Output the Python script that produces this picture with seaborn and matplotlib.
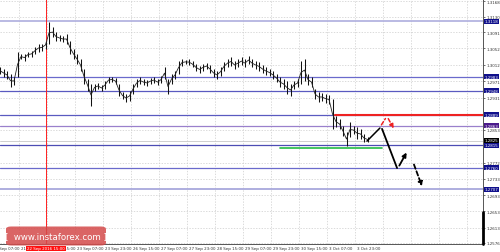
import numpy as np
import pandas as pd
import matplotlib
matplotlib.use("Agg")
import matplotlib.pyplot as plt
import seaborn as sns
from matplotlib.transforms import blended_transform_factory
from matplotlib.patches import FancyBboxPatch

# ---------------- data ----------------
bar_index = list(range(0, 212, 2))
highs = [1.3006, 1.3002, 1.2997, 1.2989, 1.2982, 1.3043, 1.3038, 1.3038, 1.3043, 1.3046,
         1.3055, 1.3063, 1.3063, 1.3070, 1.3117, 1.3104, 1.3092, 1.3085, 1.3082, 1.3087,
         1.3070, 1.3051, 1.3038, 1.3026, 1.3002, 1.2977, 1.2965, 1.2965, 1.2967, 1.2962,
         1.2972, 1.2982, 1.2982, 1.2979, 1.2965, 1.2945, 1.2940, 1.2948, 1.2965, 1.2977,
         1.2982, 1.2977, 1.2975, 1.2979, 1.2982, 1.2977, 1.2984, 1.3006, 1.2977, 1.2989,
         1.2997, 1.3021, 1.3026, 1.3024, 1.3026, 1.3021, 1.3014, 1.3009, 1.3014, 1.3016,
         1.3011, 1.3002, 1.2997, 1.3006, 1.3019, 1.3026, 1.3031, 1.3021, 1.3026, 1.3031,
         1.3026, 1.3033, 1.3026, 1.3021, 1.3019, 1.3011, 1.3006, 1.3002, 1.2997, 1.2989,
         1.2982, 1.2977, 1.2972, 1.2965, 1.2972, 1.2977, 1.3021, 1.3026, 1.2989, 1.2982,
         1.2953, 1.2945, 1.2943, 1.2940, 1.2938, 1.2928, 1.2886, 1.2879, 1.2862, 1.2847,
         1.2872, 1.2862, 1.2859, 1.2855, 1.2842, 1.2835]
lows = [1.2989, 1.2982, 1.2977, 1.2957, 1.2962, 1.2982, 1.3026, 1.3021, 1.3031, 1.3031,
        1.3038, 1.3043, 1.3046, 1.3051, 1.3063, 1.3080, 1.3070, 1.3070, 1.3068, 1.3063,
        1.3038, 1.3026, 1.3014, 1.2997, 1.2965, 1.2948, 1.2911, 1.2948, 1.2953, 1.2948,
        1.2953, 1.2967, 1.2970, 1.2965, 1.2935, 1.2928, 1.2921, 1.2923, 1.2940, 1.2957,
        1.2965, 1.2962, 1.2960, 1.2965, 1.2967, 1.2962, 1.2967, 1.2977, 1.2940, 1.2965,
        1.2977, 1.2989, 1.3009, 1.3014, 1.3011, 1.3006, 1.2997, 1.2992, 1.2997, 1.3002,
        1.2992, 1.2982, 1.2977, 1.2984, 1.2997, 1.3006, 1.3009, 1.3002, 1.3006, 1.3011,
        1.3006, 1.3014, 1.3006, 1.3002, 1.2997, 1.2992, 1.2987, 1.2984, 1.2977, 1.2970,
        1.2957, 1.2953, 1.2940, 1.2935, 1.2953, 1.2957, 1.2965, 1.2972, 1.2962, 1.2957,
        1.2928, 1.2921, 1.2923, 1.2918, 1.2916, 1.2855, 1.2859, 1.2855, 1.2837, 1.2813,
        1.2835, 1.2842, 1.2830, 1.2830, 1.2823, 1.2823]

# horizontal levels (price, colour, label box colour)
level_prices = [1.3118, 1.2983, 1.2948, 1.2889, 1.2863, 1.2815, 1.2760, 1.2707]
level_colors = ["#b4b4e0", "#6a6acc", "#5a5ac0", "#5a5ac0", "#9a80cc", "#4c4cb4", "#6a6acc", "#a8a8dc"]
level_box = ["#10108c", "#10108c", "#10108c", "#10108c", "#4b1a8c", "#10108c", "#10108c", "#10108c"]
bid_price = 1.2825

ytick_vals = [1.3168, 1.3130, 1.3091, 1.3052, 1.3012, 1.2971, 1.2931, 1.2853,
              1.2772, 1.2733, 1.2693, 1.2653, 1.2613, 1.2576]
xtick_idx = [-5, 11, 27, 43, 59, 75, 91, 107, 123, 139, 155, 171, 187, 203]
xtick_lab = ["21 Sep 07:00", "21 Sep 23:00", "22 Sep 15:00", "23 Sep 07:00", "23 Sep 23:00",
             "26 Sep 15:00", "27 Sep 07:00", "27 Sep 23:00", "28 Sep 15:00", "29 Sep 07:00",
             "29 Sep 23:00", "30 Sep 15:00", "3 Oct 07:00", "3 Oct 23:00"]
cursor_idx = 26.3
cursor_label = "22 Sep 2016 15:00"

green_x = [160, 218.3]
green_y = [1.2809, 1.2809]
red_x = [191.4, 276]
red_y = [1.2889, 1.2889]

path1_x = [209.7, 217.1]
path1_y = [1.2825, 1.2857]
path2_x = [218.3, 226.9]
path2_y = [1.2855, 1.2759]
arrow_up = [(227.4, 1.2759), (233.1, 1.2803)]
arrow_dn = [(236.0, 1.2774), (241.7, 1.2708)]
red_up = [(217.1, 1.2859), (221.1, 1.2886)]
red_dn = [(221.1, 1.2886), (225.7, 1.2850)]

# ---------------- figure ----------------
sns.set_style("white")
fig = plt.figure(figsize=(5.0, 2.53), dpi=100)
ax = fig.add_axes([0.0, 1 - 245 / 253, 483 / 500, 245 / 253])
ax.set_xlim(0, 276)
ax.set_ylim(1.2573, 1.3173)

FS = 2.9

# grid
for y in ytick_vals:
    ax.axhline(y, color="#cccccc", lw=0.5, ls=(0, (2, 2)), zorder=0)
for xi in range(11, 276, 16):
    ax.axvline(xi, color="#cccccc", lw=0.5, ls=(0, (2, 2)), zorder=0)

# levels
for p, c in zip(level_prices, level_colors):
    ax.axhline(p, color=c, lw=1.3 if c in ("#b4b4e0", "#a8a8dc") else 0.9, zorder=1)
ax.axhline(bid_price, color="#c8c8c8", lw=0.6, zorder=1)

# red cursor line
ax.axvline(cursor_idx, color="#ff2020", lw=0.7, zorder=2)

# bars
bars = pd.DataFrame({"i": bar_index, "high": highs, "low": lows})
ax.vlines(bars["i"], bars["low"], bars["high"], color="#111111", lw=0.75, zorder=3)
sns.lineplot(x=bars["i"], y=(bars["high"] + bars["low"]) / 2, ax=ax, color="#222222", lw=0.6, zorder=3)

# green / red horizontal support-resistance
sns.lineplot(x=green_x, y=green_y, ax=ax, color="#22bb44", lw=1.2, zorder=4)
sns.lineplot(x=red_x, y=red_y, ax=ax, color="#ee2222", lw=1.5, zorder=4)

# projection paths
sns.lineplot(x=path1_x, y=path1_y, ax=ax, color="black", lw=1.1, zorder=5)
sns.lineplot(x=path2_x, y=path2_y, ax=ax, color="black", lw=1.3, zorder=5)
ax.annotate("", xy=arrow_up[1], xytext=arrow_up[0],
            arrowprops=dict(arrowstyle="-|>", color="black", lw=1.3, mutation_scale=6), zorder=5)
ax.annotate("", xy=arrow_dn[1], xytext=arrow_dn[0],
            arrowprops=dict(arrowstyle="-|>", color="black", lw=1.3, ls=(0, (2.5, 1.5)), mutation_scale=6), zorder=5)
ax.annotate("", xy=red_up[1], xytext=red_up[0],
            arrowprops=dict(arrowstyle="-", color="#ee2222", lw=1.1, ls=(0, (2.5, 1.5))), zorder=5)
ax.annotate("", xy=red_dn[1], xytext=red_dn[0],
            arrowprops=dict(arrowstyle="-|>", color="#ee2222", lw=1.1, ls=(0, (2.5, 1.5)), mutation_scale=6), zorder=5)

# axes styling
for s in ["top", "left"]:
    ax.spines[s].set_visible(False)
ax.spines["right"].set_color("#555555")
ax.spines["right"].set_linewidth(0.7)
ax.spines["bottom"].set_color("#555555")
ax.spines["bottom"].set_linewidth(0.7)
ax.set_xlabel("")
ax.set_ylabel("")
ax.set_xticks([])
ax.yaxis.tick_right()
ax.set_yticks(ytick_vals)
ax.set_yticklabels([f"{v:.4f}" for v in ytick_vals])
ax.tick_params(axis="y", labelsize=FS, colors="#333333", length=1.5, width=0.5, pad=1.2)

# thick black marker at the bottom of right axis
ax.plot([1, 1], [0, 0.13], transform=ax.transAxes, color="black", lw=2, clip_on=False, zorder=6)

# level value boxes on the right
trY = blended_transform_factory(ax.transAxes, ax.transData)
for p, bc in zip(level_prices, level_box):
    ax.text(1.004, p, f"{p:.4f}", transform=trY, fontsize=FS, color="white", va="center", ha="left",
            bbox=dict(boxstyle="square,pad=0.12", fc=bc, ec="none"), zorder=7, clip_on=False)
ax.text(1.004, bid_price + 0.00015, f"{bid_price:.4f}", transform=trY, fontsize=FS, color="white",
        va="center", ha="left", bbox=dict(boxstyle="square,pad=0.12", fc="black", ec="none"), zorder=8,
        clip_on=False)

# x labels
trX = blended_transform_factory(ax.transData, ax.transAxes)
for xi, lab in zip(xtick_idx, xtick_lab):
    ax.text(xi + 0.8, -0.01, lab, transform=trX, fontsize=FS, color="#333333", va="top", ha="left",
            clip_on=False)

# watermark
wm = FancyBboxPatch((7 / 500, 1 - 246 / 253), 98 / 500, 18 / 253, boxstyle="round,pad=0.002,rounding_size=0.01",
                    transform=fig.transFigure, fc="#d44a4a", ec="none", alpha=0.85, zorder=9)
fig.patches.append(wm)
fig.text(56 / 500, 1 - 237 / 253, "[  www.instaforex.com ]", fontsize=6.2, color="white",
         ha="center", va="center", zorder=10)

# cursor date label
fig.text(46 / 500, 1 - 249.5 / 253, cursor_label, fontsize=FS, color="white", ha="center", va="center",
         bbox=dict(boxstyle="square,pad=0.2", fc="#ff1010", ec="none"), zorder=11)

fig.savefig("out.png", dpi=100)
